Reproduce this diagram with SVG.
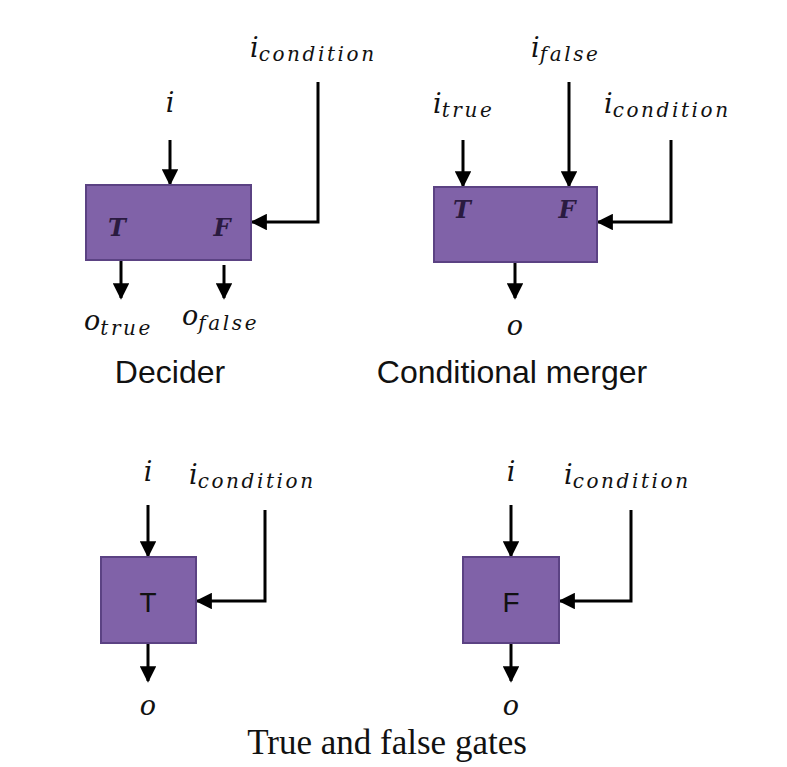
<svg xmlns="http://www.w3.org/2000/svg" width="787" height="767" viewBox="0 0 787 767">
<style>
.box{fill:#8062a8;stroke:#5b4283;stroke-width:2}
.c{fill:none;stroke:#000;stroke-width:3;marker-end:url(#ah)}
.m{font-family:"DejaVu Serif","Liberation Serif",serif;font-style:italic;fill:#111}
.big{font-size:27px}
.sub{font-size:20px;letter-spacing:2.6px}
.bl{font-family:"Liberation Sans",Arial,sans-serif;font-size:32px;fill:#111}
.bt{font-family:"DejaVu Serif",serif;font-style:italic;font-weight:bold;font-size:24px;fill:#2a1a40}
</style>
<defs><marker id="ah" viewBox="0 0 10 10" refX="9" refY="5" markerWidth="5.5" markerHeight="5.5" orient="auto" markerUnits="strokeWidth"><path d="M0,0L10,5L0,10z" fill="#000"/></marker></defs>
<rect width="787" height="767" fill="#fff"/>
<g id="connectors">
<path class="c" d="M170,140V184"/>
<path class="c" d="M318,82V222H252"/>
<path class="c" d="M121,261V298"/>
<path class="c" d="M224,265V298"/>
<path class="c" d="M463,140V186"/>
<path class="c" d="M569,82V186"/>
<path class="c" d="M671,140V222H598"/>
<path class="c" d="M515,263V298"/>
<path class="c" d="M148,505V556"/>
<path class="c" d="M265,510V601H197"/>
<path class="c" d="M148,644V681"/>
<path class="c" d="M511,505V556"/>
<path class="c" d="M631,510V601H560"/>
<path class="c" d="M511,644V681"/>
</g>
<g id="decider">
<rect class="box" x="86" y="185" width="165" height="75"/>
<text class="bt" x="117" y="236" text-anchor="middle">T</text>
<text class="bt" x="222" y="236" text-anchor="middle">F</text>
<text class="m big" x="170" y="112" text-anchor="middle">i</text>
<text class="m" x="250" y="57"><tspan class="big">i</tspan><tspan class="sub" dy="4">condition</tspan></text>
<text class="m" x="84" y="330"><tspan class="big">o</tspan><tspan class="sub" dy="5">true</tspan></text>
<text class="m" x="182" y="325"><tspan class="big">o</tspan><tspan class="sub" dy="5">false</tspan></text>
<text class="bl" x="170" y="383" text-anchor="middle">Decider</text>
</g>
<g id="merger">
<rect class="box" x="434" y="187" width="163" height="75"/>
<text class="bt" x="462" y="218" text-anchor="middle">T</text>
<text class="bt" x="567" y="218" text-anchor="middle">F</text>
<text class="m" x="433" y="113"><tspan class="big">i</tspan><tspan class="sub" dy="4">true</tspan></text>
<text class="m" x="531" y="57"><tspan class="big">i</tspan><tspan class="sub" dy="4">false</tspan></text>
<text class="m" x="604" y="113"><tspan class="big">i</tspan><tspan class="sub" dy="4">condition</tspan></text>
<text class="m big" x="515" y="335" text-anchor="middle">o</text>
<text class="bl" x="512" y="383" text-anchor="middle">Conditional merger</text>
</g>
<g id="truegate">
<rect class="box" x="101" y="557" width="95" height="86"/>
<text class="bl" x="148" y="612" text-anchor="middle" style="font-size:28px">T</text>
<text class="m big" x="148" y="481" text-anchor="middle">i</text>
<text class="m" x="189" y="484"><tspan class="big">i</tspan><tspan class="sub" dy="4">condition</tspan></text>
<text class="m big" x="148" y="715" text-anchor="middle">o</text>
</g>
<g id="falsegate">
<rect class="box" x="463" y="557" width="96" height="86"/>
<text class="bl" x="511" y="612" text-anchor="middle" style="font-size:28px">F</text>
<text class="m big" x="511" y="481" text-anchor="middle">i</text>
<text class="m" x="564" y="484"><tspan class="big">i</tspan><tspan class="sub" dy="4">condition</tspan></text>
<text class="m big" x="511" y="715" text-anchor="middle">o</text>
</g>
<text x="387" y="754" text-anchor="middle" style="font-family:'Liberation Serif',serif;font-size:35px;fill:#111">True and false gates</text>
</svg>
